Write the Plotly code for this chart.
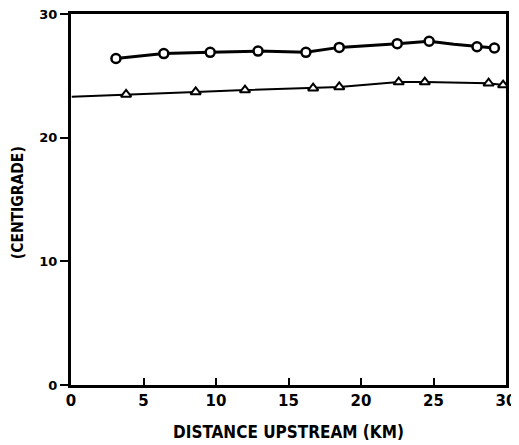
import plotly.graph_objects as go

# Upper series (open circles)
circ_x = [3.1, 6.4, 9.6, 12.9, 16.2, 18.5, 22.5, 24.7, 26.4, 28.0, 29.2]
circ_y = [26.4, 26.8, 26.9, 27.0, 26.9, 27.3, 27.6, 27.8, 27.55, 27.35, 27.25]
circ_marker = [True, True, True, True, True, True, True, True, False, True, True]

# Lower series (open triangles)
tri_x = [0.05, 3.8, 8.6, 12.0, 16.7, 18.5, 22.6, 24.4, 28.8, 29.8]
tri_y = [23.3, 23.5, 23.7, 23.85, 24.0, 24.1, 24.5, 24.5, 24.4, 24.25]
tri_marker = [False, True, True, True, True, True, True, True, True, True]

x_ticks = [0, 5, 10, 15, 20, 25, 30]
y_ticks = [0, 10, 20, 30]

fig = go.Figure()
fig.add_trace(go.Scatter(
    x=circ_x, y=circ_y, mode="lines", line=dict(color="black", width=3),
    showlegend=False, hoverinfo="skip"))
fig.add_trace(go.Scatter(
    x=[x for x, m in zip(circ_x, circ_marker) if m],
    y=[y for y, m in zip(circ_y, circ_marker) if m],
    mode="markers",
    marker=dict(symbol="circle", size=9, color="white",
                line=dict(color="black", width=2.5)),
    showlegend=False))
fig.add_trace(go.Scatter(
    x=tri_x, y=tri_y, mode="lines", line=dict(color="black", width=2),
    showlegend=False, hoverinfo="skip"))
fig.add_trace(go.Scatter(
    x=[x for x, m in zip(tri_x, tri_marker) if m],
    y=[y for y, m in zip(tri_y, tri_marker) if m],
    mode="markers",
    marker=dict(symbol="triangle-up", size=9, color="white",
                line=dict(color="black", width=2)),
    showlegend=False))

font_title = "DejaVu Sans Condensed, DejaVu Sans, Arial"
font_tick = "DejaVu Sans, Arial"
fig.update_layout(
    width=511, height=437,
    margin=dict(l=63, r=13, t=6, b=60, autoexpand=False),
    paper_bgcolor="white", plot_bgcolor="white",
    font=dict(family=font_title, color="black"),
    xaxis=dict(range=[0, 30], tickvals=x_ticks, ticks="inside", ticklen=7,
               tickwidth=2, tickcolor="black", showline=True, linecolor="black",
               linewidth=3, mirror=True, showgrid=False, zeroline=False,
               automargin=False, ticklabeloverflow="allow",
               tickfont=dict(size=15, family=font_tick, weight="bold")),
    yaxis=dict(range=[0, 30], tickvals=y_ticks, ticks="outside", ticklen=8,
               tickwidth=2, tickcolor="black", showline=True, linecolor="black",
               linewidth=3, mirror=True, showgrid=False, zeroline=False,
               automargin=False, ticklabeloverflow="allow",
               tickfont=dict(size=13, family=font_tick, weight="bold")),
    annotations=[
        dict(text="DISTANCE UPSTREAM (KM)", xref="paper", yref="paper",
             x=0.5, y=0, xanchor="center", yanchor="middle", yshift=-47,
             showarrow=False,
             font=dict(size=17, family=font_title, weight="bold")),
        dict(text="(CENTIGRADE)", xref="paper", yref="paper",
             x=0, y=0.49, xanchor="center", yanchor="middle", xshift=-53,
             textangle=-90, showarrow=False,
             font=dict(size=15.5, family=font_title, weight="bold")),
    ],
)
fig.write_html("out.html")
